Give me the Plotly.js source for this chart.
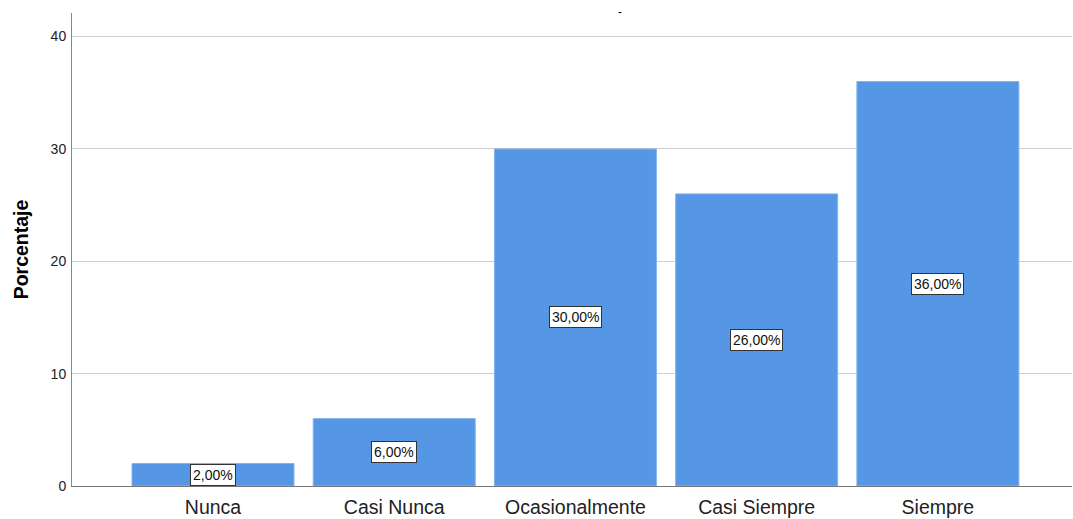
<!DOCTYPE html>
<html><head><meta charset="utf-8">
<script src="https://cdn.plot.ly/plotly-3.0.1.min.js"></script>
<style>html,body{margin:0;padding:0;background:#fff}#c{width:1073px;height:519px}</style>
</head><body><div id="c"></div>
<script>
const categories = ['Nunca', 'Casi Nunca', 'Ocasionalmente', 'Casi Siempre', 'Siempre'];
const percentages = [2, 6, 30, 26, 36];
const labels = ['2,00%', '6,00%', '30,00%', '26,00%', '36,00%'];
const yTicks = [0, 10, 20, 30, 40];

const trace = {
  type: 'bar', x: categories, y: percentages, width: 0.894,
  marker: {color: '#5596e5', line: {color: '#86b3ee', width: 1}},
  hoverinfo: 'none'
};
const annotations = categories.map((c, i) => ({
  x: c, y: percentages[i] / 2, xref: 'x', yref: 'y', text: labels[i], showarrow: false,
  font: {family: 'Liberation Sans, Arial', size: 14, color: '#111'},
  bgcolor: '#ffffff', bordercolor: '#333', borderwidth: 1, borderpad: 2
}));
const layout = {
  width: 1073, height: 519,
  margin: {l: 72, r: 1, t: 13, b: 33},
  paper_bgcolor: '#fff', plot_bgcolor: '#fff',
  showlegend: false,
  title: {text: '-', x: 620/1073, xref: 'container', xanchor: 'center', y: 0.985, yanchor: 'top',
    font: {family: 'Liberation Sans, Arial', size: 12, color: '#000'}},
  xaxis: {type: 'category', range: [-0.778, 4.74], showgrid: false, showline: true,
    linecolor: '#777', linewidth: 1, ticks: '', ticklen: 0, ticklabelstandoff: 4,
    tickfont: {family: 'Liberation Sans, Arial', size: 19.5, color: '#222'}},
  yaxis: {range: [0, 42.1], tickvals: yTicks, ticktext: yTicks.map(String),
    showgrid: true, gridcolor: '#cfcfcf', gridwidth: 1, zeroline: false,
    showline: true, linecolor: '#888', linewidth: 1, ticks: '', ticklen: 0, ticklabelstandoff: 2,
    tickfont: {family: 'Liberation Sans, Arial', size: 14, color: '#222'},
    title: {text: '<b>Porcentaje</b>', standoff: 16,
      font: {family: 'Liberation Sans, Arial', size: 19.5, color: '#000'}}},
  annotations: annotations
};
Plotly.newPlot('c', [trace], layout, {displayModeBar: false, staticPlot: true});
</script>
</body></html>
